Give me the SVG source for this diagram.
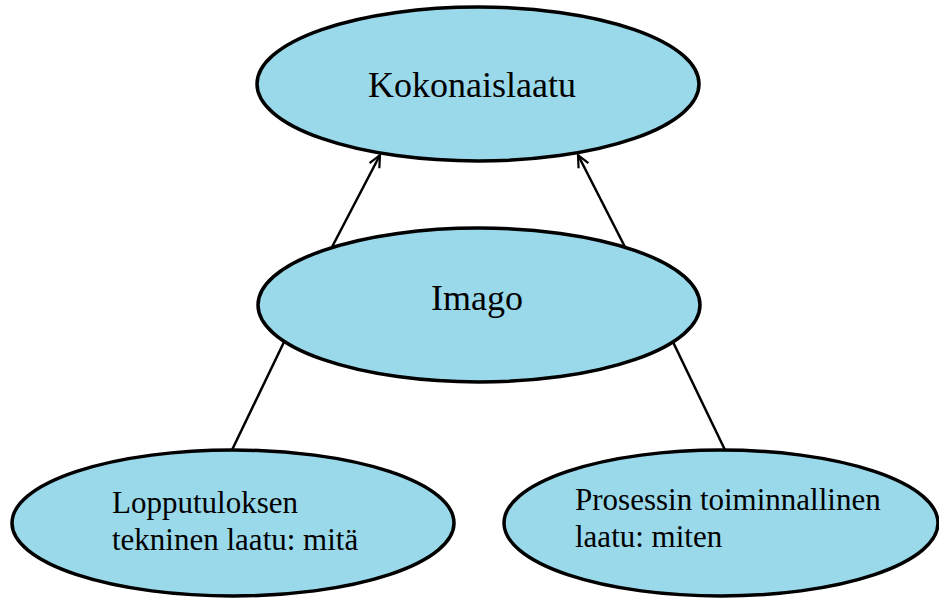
<svg xmlns="http://www.w3.org/2000/svg" width="939" height="598" viewBox="0 0 939 598">
<style>
.node ellipse{fill:#9ad9ea;stroke:#000;stroke-width:3.5}
.node text{font-family:"Liberation Serif","Times New Roman",serif;fill:#000}
.big{font-size:36px}
.small{font-size:31px}
.edges line{stroke:#000;stroke-width:2.5}
</style>
<defs>
<marker id="arr" viewBox="0 0 14 14" refX="13" refY="7" markerWidth="14" markerHeight="14" markerUnits="userSpaceOnUse" orient="auto">
<polyline points="1,1.5 13,7 1,12.5" fill="none" stroke="#000" stroke-width="2.2"/>
</marker>
</defs>
<g class="edges">
<line x1="332" y1="247" x2="380" y2="155" marker-end="url(#arr)"/>
<line x1="625" y1="247" x2="578" y2="155" marker-end="url(#arr)"/>
<line x1="232" y1="450" x2="284" y2="342"/>
<line x1="725" y1="450" x2="673" y2="342"/>
</g>
<g id="kokonaislaatu" class="node">
<ellipse cx="478" cy="84" rx="221" ry="77"/>
<text class="big" x="472" y="97" text-anchor="middle">Kokonaislaatu</text>
</g>
<g id="imago" class="node">
<ellipse cx="479" cy="305" rx="221" ry="77"/>
<text class="big" x="477" y="310" text-anchor="middle">Imago</text>
</g>
<g id="lopputulos" class="node">
<ellipse cx="233" cy="523" rx="221" ry="73"/>
<text class="small" x="112" y="513">Lopputuloksen</text>
<text class="small" x="112" y="550">tekninen laatu: mitä</text>
</g>
<g id="prosessi" class="node">
<ellipse cx="721" cy="523" rx="217" ry="73"/>
<text class="small" x="575" y="510">Prosessin toiminnallinen</text>
<text class="small" x="575" y="547">laatu: miten</text>
</g>
</svg>
